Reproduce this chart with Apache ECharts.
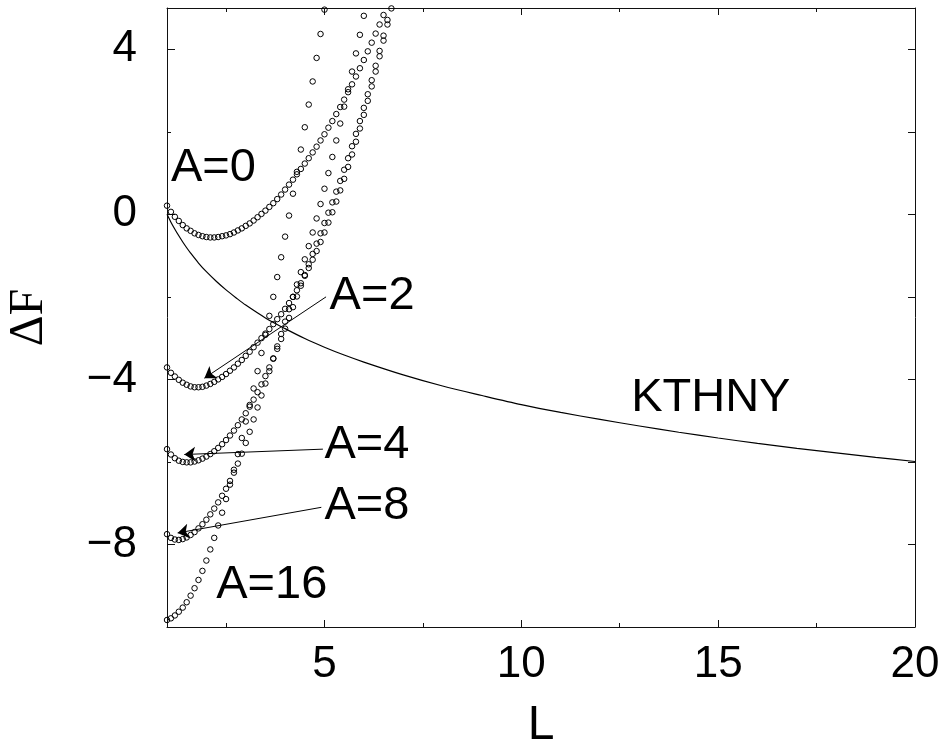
<!DOCTYPE html>
<html><head><meta charset="utf-8">
<script src="https://cdn.jsdelivr.net/npm/echarts@6/dist/echarts.min.js"></script>
<style>html,body{margin:0;padding:0;background:#fff}#c{width:943px;height:748px}</style>
</head><body><div id="c"></div>
<script>
// system size L (shared grid of sampled sizes)
const L = [1.0,1.1,1.2,1.3,1.4,1.5,1.6,1.7,1.8,1.9,2.0,2.1,2.2,2.3,2.4,2.5,2.6,2.7,2.8,2.9,
           3.0,3.1,3.2,3.3,3.4,3.5,3.6,3.7,3.8,3.9,4.0,4.1,4.2,4.3,4.4,4.5,4.6,4.7,4.8,4.9,
           5.0,5.1,5.2,5.3,5.4,5.5,5.6,5.7,5.8,5.9,6.0,6.1,6.2,6.3,6.4,6.5,6.6,6.7];
// ΔF for each A (index i corresponds to L[i])
const A0 = [0.21,0.06,-0.06,-0.16,-0.26,-0.34,-0.40,-0.46,-0.50,-0.53,-0.55,-0.56,-0.56,-0.55,-0.53,-0.51,-0.48,-0.44,-0.39,-0.34,
            -0.28,-0.22,-0.15,-0.07,0.01,0.09,0.18,0.27,0.37,0.48,0.60,0.72,0.84,0.97,1.10,1.23,1.36,1.50,1.64,1.79,
            1.94,2.10,2.26,2.43,2.60,2.78,2.96,3.15,3.34,3.54,3.74,3.95,4.16,4.38,4.60,4.83];
const A2 = [-3.71,-3.84,-3.93,-4.01,-4.08,-4.13,-4.17,-4.19,-4.19,-4.18,-4.15,-4.11,-4.06,-4.00,-3.94,-3.87,-3.79,-3.71,-3.62,-3.53,
            -3.43,-3.33,-3.22,-3.11,-3.00,-2.89,-2.78,-2.66,-2.54,-2.42,-2.29,-2.15,-2.00,-1.84,-1.67,-1.49,-1.30,-1.10,-0.89,-0.67,
            -0.44,-0.20,0.05,0.31,0.58,0.86,1.15,1.45,1.76,2.08,2.41,2.75,3.10,3.46,3.83,4.21,4.60,4.99];
const A4 = [-5.69,-5.82,-5.91,-5.97,-6.00,-6.01,-6.01,-5.99,-5.96,-5.92,-5.87,-5.81,-5.74,-5.66,-5.57,-5.47,-5.36,-5.24,-5.11,-4.97,
            -4.82,-4.66,-4.49,-4.31,-4.12,-3.92,-3.71,-3.49,-3.26,-3.02,-2.77,-2.51,-2.25,-1.99,-1.73,-1.47,-1.21,-0.96,-0.71,-0.46,
            -0.21,0.04,0.29,0.55,0.81,1.08,1.36,1.65,1.95,2.26,2.58,2.91,3.25,3.60,3.96,4.33,4.71];
const A8 = [-7.75,-7.84,-7.88,-7.89,-7.87,-7.83,-7.77,-7.70,-7.61,-7.51,-7.40,-7.27,-7.13,-6.98,-6.82,-6.65,-6.46,-6.26,-6.04,-5.80,
            -5.54,-5.27,-4.97,-4.68,-4.39,-4.10,-3.80,-3.50,-3.20,-2.90,-2.60,-2.30,-2.00,-1.70,-1.40,-1.09,-0.77,-0.44,-0.10,0.25,
            0.62,1.00,1.39,1.79,2.20,2.61,3.03,3.46,3.90,4.35,4.81];
const A16 = [-9.83,-9.79,-9.72,-9.63,-9.53,-9.40,-9.24,-9.06,-8.86,-8.64,-8.39,-8.12,-7.84,-7.54,-7.23,-6.90,-6.55,-6.19,-5.81,-5.42,
             -5.02,-4.62,-4.22,-3.80,-3.36,-2.92,-2.46,-2.00,-1.52,-1.04,-0.54,-0.03,0.50,1.03,1.57,2.11,2.66,3.22,3.79,4.37,4.96];
// KTHNY curve
const kthnyL = [1,1.1,1.2,1.3,1.4,1.5,1.6,1.8,2,2.25,2.5,2.75,3,3.5,4,4.5,5,5.5,6,7,8,9,10,11,12,13,14,15,16,17,18,19,20];
const kthnyF = [0,-0.19,-0.36,-0.52,-0.67,-0.81,-0.94,-1.18,-1.39,-1.62,-1.83,-2.02,-2.20,-2.51,-2.77,-3.01,-3.22,-3.41,-3.58,
                -3.89,-4.16,-4.39,-4.61,-4.80,-4.97,-5.13,-5.28,-5.42,-5.55,-5.67,-5.78,-5.89,-5.99];
// axis ticks / labels
const xLabels = [5,10,15,20];
const xMajorTicks = [5,10,15];
const xMinorTicks = [2.5,7.5,12.5,17.5];
const yLabels = [-8,-4,0,4];
const yMajorTicks = [-8,-4,0,4];
const yMinorTicks = [-6,-2,2];
const yRightTicks = [-8,-6,-4,-2,0,2,4];
// annotations
const noteText = ['A=0','A=2','A=4','A=8','A=16','KTHNY'];
const noteL = [1.10,5.13,5.00,5.00,2.25,12.79];
const noteF = [1.11,-1.97,-5.60,-7.06,-8.98,-4.44];
const arrowFrom = [[5.04,-2.00],[4.96,-5.69],[4.92,-7.10]];
const arrowTo = [[1.95,-3.97],[1.44,-5.82],[1.27,-7.72]];

const SANS = 'Liberation Sans, Arial, Helvetica, sans-serif';
const AX = '#111';
function pts(vals){ return vals.map((v,i)=>[L[i], v]); }
function xAx(pos, ticks, len, line, labels, extra){
  return Object.assign({type:'value', min:1, max:20, position:pos,
    axisLine:{show:line, onZero:false, lineStyle:{color:AX,width:1}},
    axisTick:{show:true, inside:true, length:len, customValues:ticks, lineStyle:{color:AX,width:1}},
    axisLabel:labels ? {show:true, customValues:labels, fontSize:44, color:'#000', fontFamily:SANS, margin:16} : {show:false},
    splitLine:{show:false}}, extra||{});
}
function yAx(pos, ticks, len, line, labels, extra){
  return Object.assign({type:'value', min:-10, max:5, position:pos,
    axisLine:{show:line, onZero:false, lineStyle:{color:AX,width:1}},
    axisTick:{show:true, inside:true, length:len, customValues:ticks, lineStyle:{color:AX,width:1}},
    axisLabel:labels ? {show:true, customValues:labels, fontSize:44, color:'#000', fontFamily:SANS, margin:30,
       formatter:v=>String(v).replace('-','\u2212')} : {show:false},
    splitLine:{show:false}}, extra||{});
}
const dot = {type:'scatter', symbol:'circle', symbolSize:5.5, silent:true,
  itemStyle:{color:'rgba(255,255,255,0)', borderColor:'#000', borderWidth:1, opacity:1}};

const chart = echarts.init(document.getElementById('c'), null, {renderer:'canvas'});
chart.setOption({
  animation:false,
  backgroundColor:'#fff',
  grid:{left:167, right:28, top:8, bottom:121, containLabel:false, outerBoundsMode:'none'},
  xAxis:[
    xAx('bottom', xMajorTicks, 7, true, xLabels, {name:'L', nameLocation:'middle', nameGap:75,
       nameTextStyle:{fontSize:48, color:'#000', fontFamily:SANS}}),
    xAx('bottom', xMinorTicks, 4, false, null),
    xAx('top', xMajorTicks, 7, true, null),
    xAx('top', xMinorTicks, 4, false, null)
  ],
  yAxis:[
    yAx('left', yMajorTicks, 8, true, yLabels, {name:'\u0394F', nameLocation:'middle', nameGap:114, nameRotate:90,
       nameTextStyle:{fontSize:48, color:'#000', fontFamily:'Liberation Serif, Times New Roman, serif'}}),
    yAx('left', yMinorTicks, 4, false, null),
    yAx('right', yRightTicks, 7, true, null)
  ],
  series:[
    {type:'line', data:kthnyL.map((x,i)=>[x,kthnyF[i]]), smooth:0.3, showSymbol:false, symbol:'none',
     lineStyle:{color:'#000', width:1.2}, silent:true, z:1},
    Object.assign({name:'A=0', data:pts(A0)}, dot),
    Object.assign({name:'A=2', data:pts(A2)}, dot),
    Object.assign({name:'A=4', data:pts(A4)}, dot),
    Object.assign({name:'A=8', data:pts(A8)}, dot),
    Object.assign({name:'A=16', data:pts(A16)}, dot),
    {type:'scatter', name:'notes', silent:true, symbolSize:0, itemStyle:{opacity:1, color:'#000'},
     data:noteText.map((t,i)=>({value:[noteL[i], noteF[i]], name:t})),
     label:{show:true, position:'right', distance:0, formatter:p=>p.name, fontSize:47, color:'#000', fontFamily:SANS,
            verticalAlign:'middle', opacity:1}},
    {type:'lines', name:'arrows', coordinateSystem:'cartesian2d', silent:true, polyline:false,
     symbol:['none','arrow'], symbolSize:11,
     lineStyle:{color:'#000', width:1, opacity:1, curveness:0},
     itemStyle:{color:'#000'},
     data:arrowFrom.map((f,i)=>({coords:[f, arrowTo[i]]}))}
  ]
});
</script></body></html>
